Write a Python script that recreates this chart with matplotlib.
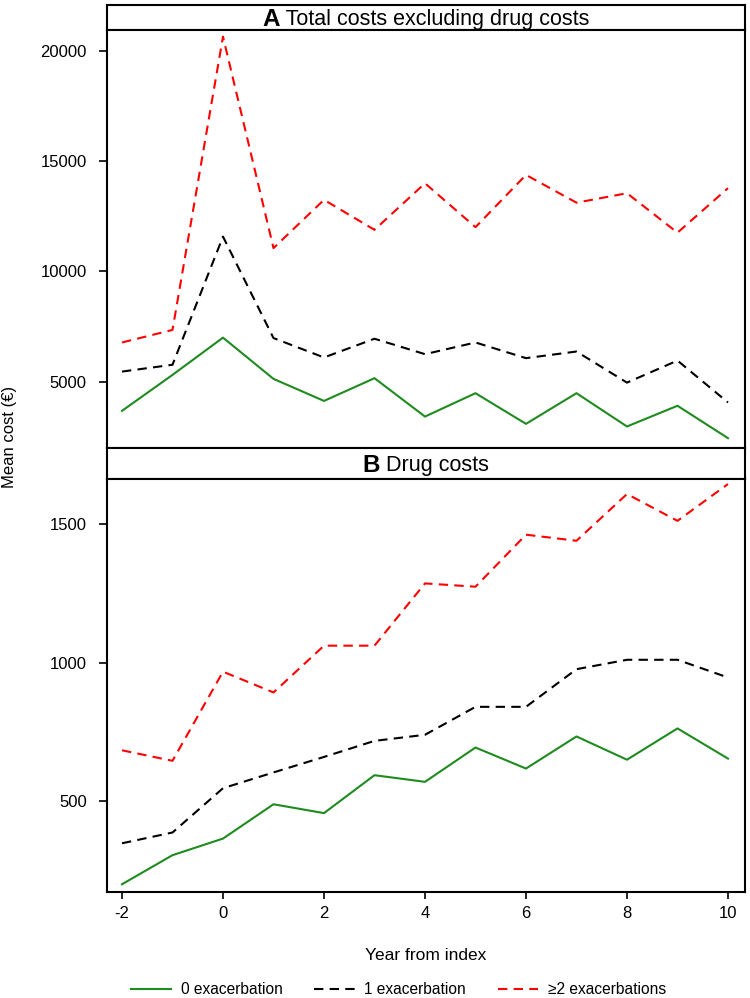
import numpy as np
import matplotlib
matplotlib.use("Agg")
import matplotlib.pyplot as plt
from matplotlib.lines import Line2D

plt.rcParams["font.family"] = ["Liberation Sans", "DejaVu Sans"]
plt.rcParams["axes.unicode_minus"] = False

# --------------------------------------------------------------------------- #
# Data
# --------------------------------------------------------------------------- #
years = [-2, -1, 0, 1, 2, 3, 4, 5, 6, 7, 8, 9, 10]

# Panel A: total costs excluding drug costs (EUR)
nondrug_0 = [3680, 5310, 7000, 5130, 4130, 5160, 3420, 4480, 3090, 4480, 2970, 3910, 2440]
nondrug_1 = [5460, 5770, 11580, 6980, 6100, 6950, 6250, 6780, 6070, 6370, 4960, 5960, 4060]
nondrug_2 = [6780, 7350, 20650, 11060, 13250, 11890, 14000, 12010, 14380, 13120, 13550, 11760, 13780]

# Panel B: drug costs (EUR)
drug_0 = [200, 305, 365, 489, 457, 594, 570, 694, 618, 734, 650, 763, 654]
drug_1 = [348, 387, 547, 604, 660, 718, 740, 841, 841, 977, 1011, 1011, 947]
drug_2 = [684, 646, 968, 893, 1062, 1062, 1287, 1275, 1463, 1441, 1610, 1513, 1646]

series_labels = ["0 exacerbation", "1 exacerbation", "\u22652 exacerbations"]
series_colors = ["#1E8B1E", "black", "red"]
series_styles = ["-", "--", "--"]

panels = [
    ("A", "Total costs excluding drug costs", [nondrug_0, nondrug_1, nondrug_2],
     [5000, 10000, 15000, 20000], (2008, 20952)),
    ("B", "Drug costs", [drug_0, drug_1, drug_2],
     [500, 1000, 1500], (172, 1666)),
]

# --------------------------------------------------------------------------- #
# Layout (pixels from top-left of a 750 x 998 figure)
# --------------------------------------------------------------------------- #
W, H = 750, 998
fig = plt.figure(figsize=(W / 100, H / 100), dpi=100)

left, right = 107, 745
boxes = [  # (strip_top, panel_top, panel_bottom)
    (4.5, 30.0, 447.7),
    (447.7, 478.5, 892.0),
]
xlim = (-2.297, 10.337)
TITLE_FS = 15.5

for (letter, title, ys, yticks, ylim), (s_top, p_top, p_bot) in zip(panels, boxes):
    # strip with panel letter + title
    sax = fig.add_axes([left / W, 1 - p_top / H, (right - left) / W, (p_top - s_top) / H])
    sax.set_xticks([])
    sax.set_yticks([])
    for sp in sax.spines.values():
        sp.set_linewidth(1.5)
    t_letter = sax.text(0, 0, letter, fontsize=TITLE_FS + 2, fontweight="bold")
    t_title = sax.text(0, 0, " " + title, fontsize=TITLE_FS)
    fig.canvas.draw()
    r = fig.canvas.get_renderer()
    w1 = t_letter.get_window_extent(r).width
    w2 = t_title.get_window_extent(r).width
    x0 = (left + right) / 2 - (w1 + w2) / 2
    yc = 1 - (s_top + p_top) / 2 / H
    t_letter.set_transform(fig.transFigure)
    t_letter.set_position((x0 / W, yc))
    t_letter.set_va("center_baseline")
    t_title.set_transform(fig.transFigure)
    t_title.set_position(((x0 + w1) / W, yc))
    t_title.set_va("center_baseline")

    # data panel
    ax = fig.add_axes([left / W, 1 - p_bot / H, (right - left) / W, (p_bot - p_top) / H])
    for vals, col, ls in zip(ys, series_colors, series_styles):
        line, = ax.plot(years, vals, color=col, linestyle=ls, linewidth=1.5)
        if ls == "--":
            line.set_dashes((4.5, 3))
    ax.set_xlim(*xlim)
    ax.set_ylim(*ylim)
    ax.set_yticks(yticks)
    ax.tick_params(axis="y", length=5.5, width=1.2, pad=9, labelsize=12)
    for sp in ax.spines.values():
        sp.set_linewidth(1.5)
    if letter == "B":
        ax.set_xticks(range(-2, 11, 2))
        ax.tick_params(axis="x", length=5, width=1.2, pad=5, labelsize=12)
    else:
        ax.set_xticks([])

fig.text(10 / W, 1 - 437 / H, "Mean cost (\u20ac)", rotation=90, ha="center", va="center",
         fontsize=12)
fig.text((left + right) / 2 / W, 1 - 955 / H, "Year from index", ha="center", va="center",
         fontsize=12.5)

handles = []
for lab, col, ls in zip(series_labels, series_colors, series_styles):
    h = Line2D([], [], color=col, linestyle=ls, linewidth=1.5)
    if ls == "--":
        h.set_dashes((4.5, 3))
    handles.append(h)
fig.legend(handles, series_labels, loc="center", bbox_to_anchor=(0.531, 1 - 990 / H),
           ncol=3, frameon=False, fontsize=11.2, handlelength=2.6, handletextpad=0.6,
           columnspacing=2.05)

fig.savefig("out.png", dpi=100)
